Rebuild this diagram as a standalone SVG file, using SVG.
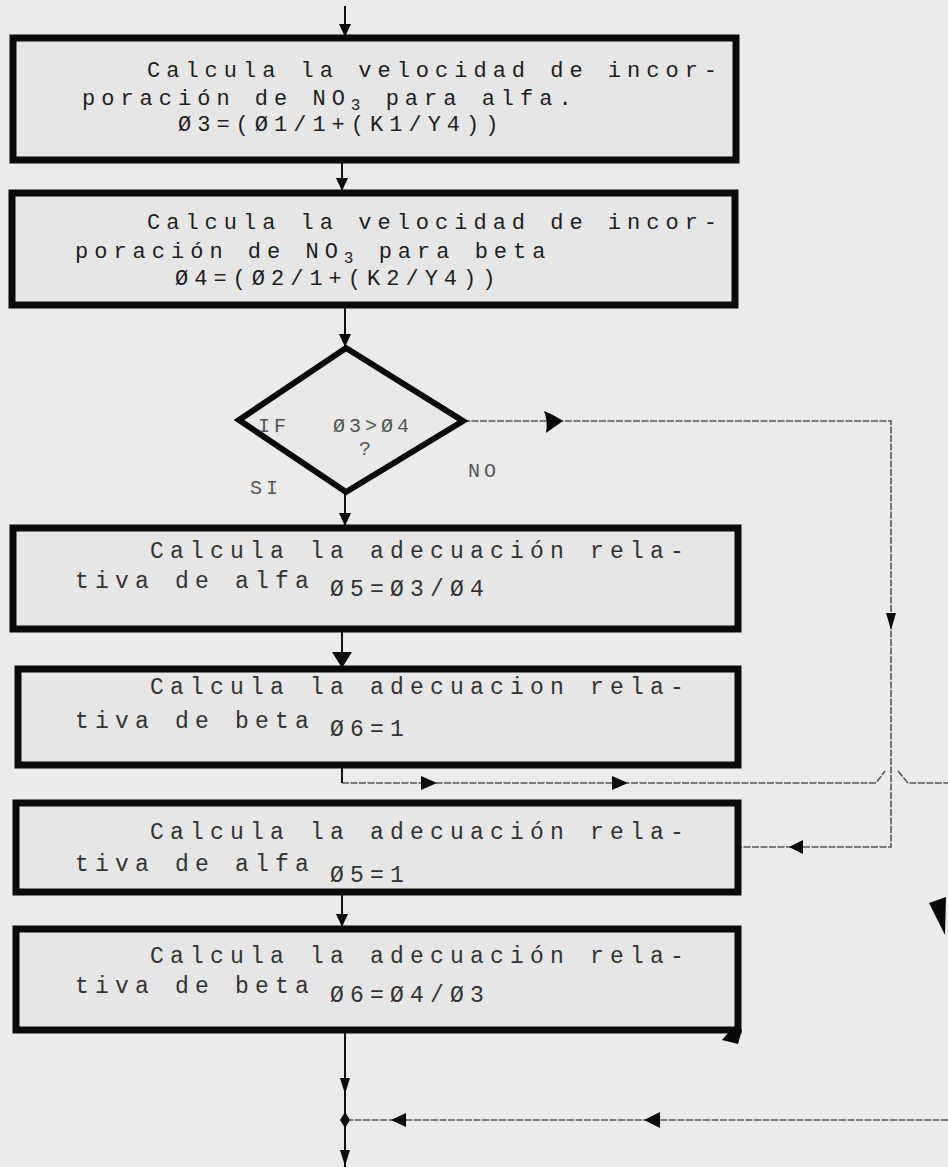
<svg xmlns="http://www.w3.org/2000/svg" width="948" height="1167" viewBox="0 0 948 1167">
<style>
.bg{fill:#ebebeb}
.box{fill:#e6e6e6;stroke:#0a0a0a;stroke-width:7}
.dia{fill:#e9e9e9;stroke:#0a0a0a;stroke-width:6;stroke-linejoin:miter}
.t1{font-family:"Liberation Mono",monospace;font-size:22px;letter-spacing:6px;fill:#1e1e1e}
.t2{font-family:"Liberation Mono",monospace;font-size:23px;letter-spacing:6.2px;fill:#333}
.t3{font-family:"Liberation Mono",monospace;font-size:20px;letter-spacing:4px;fill:#555}
.sub{font-size:16px}
.ln{fill:none;stroke:#111;stroke-width:2}
.dl{fill:none;stroke:#5a5a5a;stroke-width:1.6;stroke-dasharray:7 1.5}
.ah{fill:#0a0a0a}
</style>
<rect class="bg" x="0" y="0" width="948" height="1167"/>

<g id="connectors">
  <line class="ln" x1="345" y1="6" x2="345" y2="36"/>
  <polygon class="ah" points="339,24 351,24 345,37"/>
  <line class="ln" x1="342" y1="162" x2="342" y2="190"/>
  <polygon class="ah" points="336,178 348,178 342,191"/>
  <line class="ln" x1="345" y1="307" x2="345" y2="346"/>
  <polygon class="ah" points="339,334 351,334 345,347"/>
  <line class="ln" x1="345" y1="492" x2="345" y2="526"/>
  <polygon class="ah" points="339,513 351,513 345,526"/>
  <polyline class="dl" points="463,421 891,421 891,847 741,847"/>
  <path class="ah" d="M544,411 Q556,416 563,421 Q556,426 546,433 Q548,421 544,411 Z"/>
  <polygon class="ah" points="886,613 896,613 891,630"/>
  <polygon class="ah" points="803,840 803,854 789,847"/>
  <line class="ln" x1="342" y1="630" x2="342" y2="667"/>
  <polygon class="ah" points="332,652 352,652 342,668"/>
  <path class="dl" d="M342,783 L876,783 L885,771 M898,771 L908,783 L948,783"/>
  <line class="ln" x1="342" y1="766" x2="342" y2="783"/>
  <polygon class="ah" points="421,776 421,790 437,783"/>
  <polygon class="ah" points="612,776 612,790 628,783"/>
  <line class="ln" x1="342" y1="893" x2="342" y2="927"/>
  <polygon class="ah" points="336,914 348,914 342,927"/>
  <line class="ln" x1="345" y1="1030" x2="345" y2="1167"/>
  <polygon class="ah" points="340,1078 350,1078 345,1094"/>
  <polygon class="ah" points="345,1112 350,1120 345,1128 340,1120"/>
  <polygon class="ah" points="340,1150 350,1150 345,1166"/>
  <line class="dl" x1="948" y1="1120" x2="350" y2="1120"/>
  <polygon class="ah" points="406,1113 406,1127 391,1120"/>
  <polygon class="ah" points="660,1112 660,1128 644,1120"/>
  <polygon class="ah" points="929,903 946,897 945,935"/>
  <path class="ah" d="M722,1040 L736,1024 L742,1030 L738,1044 Z"/>
</g>

<g id="box1">
  <rect class="box" x="13" y="38" width="723" height="122"/>
  <text class="t1" x="147" y="77">Calcula la velocidad de incor-</text>
  <text class="t1" x="82" y="105">poración de NO<tspan class="sub" dy="5">3</tspan><tspan dy="-5"> para alfa.</tspan></text>
  <text class="t1" x="178" y="131">Ø3=(Ø1/1+(K1/Y4))</text>
</g>

<g id="box2">
  <rect class="box" x="12" y="193" width="723" height="112"/>
  <text class="t1" x="147" y="229">Calcula la velocidad de incor-</text>
  <text class="t1" x="75" y="258">poración de NO<tspan class="sub" dy="5">3</tspan><tspan dy="-5"> para beta</tspan></text>
  <text class="t1" x="175" y="285">Ø4=(Ø2/1+(K2/Y4))</text>
</g>

<g id="decision">
  <polygon class="dia" points="346,348 463,421 346,492 239,420"/>
  <text class="t3" x="258" y="432">IF <tspan x="333">Ø3&gt;Ø4</tspan></text>
  <text class="t3" x="359" y="455">?</text>
  <text class="t3" x="250" y="494">SI</text>
  <text class="t3" x="468" y="477">NO</text>
</g>

<g id="box3">
  <rect class="box" x="13" y="528" width="725" height="101"/>
  <text class="t2" x="150" y="558">Calcula la adecuación rela-</text>
  <text class="t2" x="75" y="588">tiva de alfa</text>
  <text class="t2" x="330" y="596">Ø5=Ø3/Ø4</text>
</g>

<g id="box4">
  <rect class="box" x="18" y="669" width="720" height="96"/>
  <text class="t2" x="150" y="694">Calcula la adecuacion rela-</text>
  <text class="t2" x="75" y="728">tiva de beta</text>
  <text class="t2" x="330" y="736">Ø6=1</text>
</g>

<g id="box5">
  <rect class="box" x="16" y="803" width="722" height="89"/>
  <text class="t2" x="150" y="839">Calcula la adecuación rela-</text>
  <text class="t2" x="75" y="871">tiva de alfa</text>
  <text class="t2" x="330" y="882">Ø5=1</text>
</g>

<g id="box6">
  <rect class="box" x="16" y="929" width="722" height="101"/>
  <text class="t2" x="150" y="963">Calcula la adecuación rela-</text>
  <text class="t2" x="75" y="993">tiva de beta</text>
  <text class="t2" x="330" y="1002">Ø6=Ø4/Ø3</text>
</g>
</svg>
